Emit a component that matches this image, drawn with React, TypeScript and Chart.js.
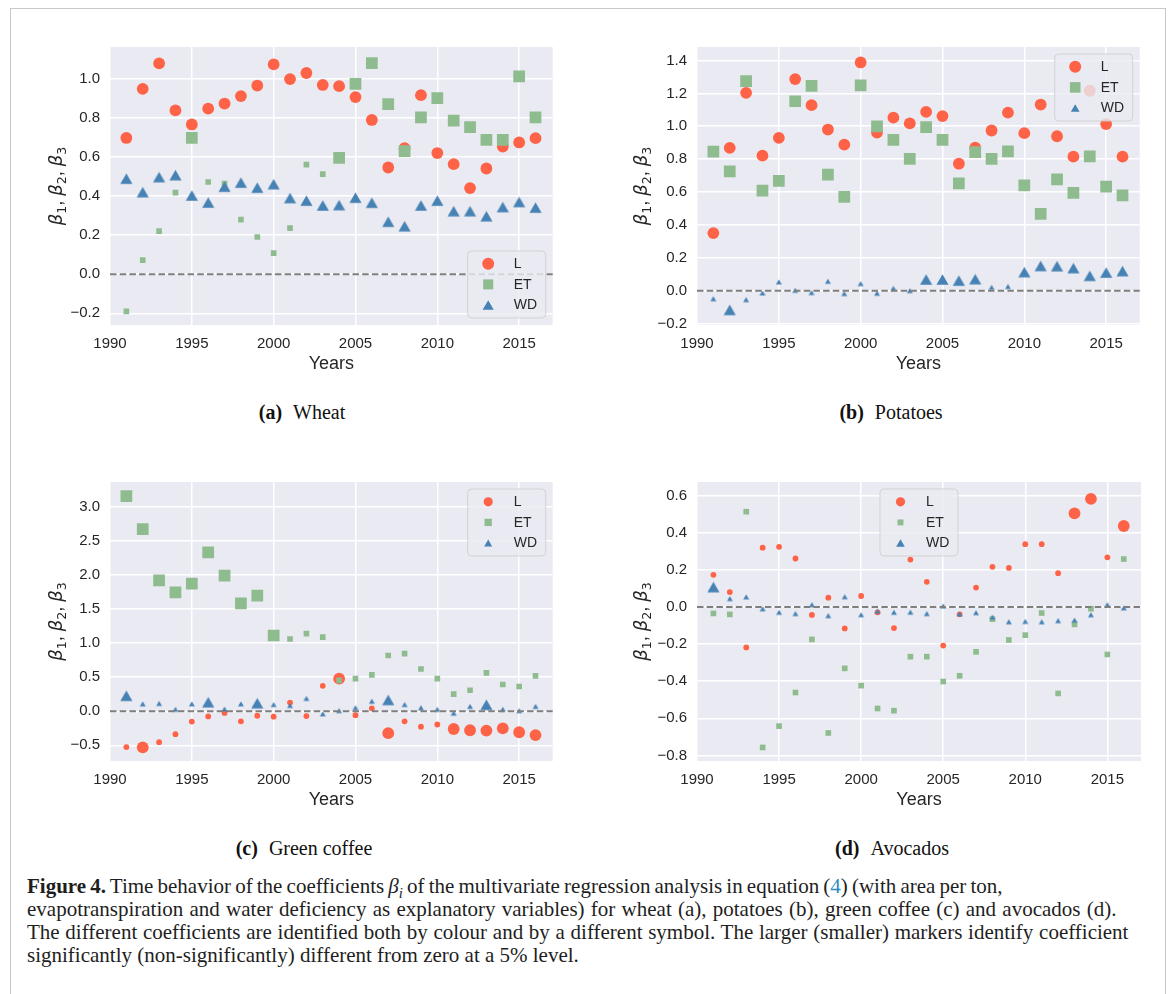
import React, { useEffect, useRef } from "react";
import { Chart, registerables } from "chart.js";

Chart.register(...registerables);

// ---------------- data ----------------
const years = [1991, 1992, 1993, 1994, 1995, 1996, 1997, 1998, 1999, 2000, 2001, 2002, 2003, 2004, 2005, 2006, 2007, 2008, 2009, 2010, 2011, 2012, 2013, 2014, 2015, 2016];
const xTicks = [1990, 1995, 2000, 2005, 2010, 2015];
const seriesLabels = ["L", "ET", "WD"];

// (a) Wheat
const wheatL = [0.696, 0.947, 1.077, 0.837, 0.765, 0.846, 0.872, 0.91, 0.964, 1.072, 0.997, 1.028, 0.967, 0.961, 0.905, 0.788, 0.545, 0.644, 0.915, 0.619, 0.562, 0.44, 0.54, 0.652, 0.673, 0.695];
const wheatLSig = [1, 1, 1, 1, 1, 1, 1, 1, 1, 1, 1, 1, 1, 1, 1, 1, 1, 1, 1, 1, 1, 1, 1, 1, 1, 1];
const wheatET = [-0.19, 0.072, 0.22, 0.417, 0.696, 0.471, 0.463, 0.279, 0.19, 0.107, 0.235, 0.56, 0.511, 0.594, 0.972, 1.079, 0.869, 0.629, 0.801, 0.9, 0.785, 0.752, 0.686, 0.686, 1.011, 0.801];
const wheatETSig = [0, 0, 0, 0, 1, 0, 0, 0, 0, 0, 0, 0, 0, 1, 1, 1, 1, 1, 1, 1, 1, 1, 1, 1, 1, 1];
const wheatWD = [0.488, 0.419, 0.496, 0.506, 0.402, 0.366, 0.447, 0.468, 0.442, 0.46, 0.389, 0.376, 0.351, 0.353, 0.391, 0.365, 0.268, 0.245, 0.351, 0.376, 0.322, 0.322, 0.296, 0.343, 0.369, 0.34];
const wheatWDSig = [1, 1, 1, 1, 1, 1, 1, 1, 1, 1, 1, 1, 1, 1, 1, 1, 1, 1, 1, 1, 1, 1, 1, 1, 1, 1];
const wheatYTicks = [-0.2, 0, 0.2, 0.4, 0.6, 0.8, 1.0];

// (b) Potatoes
const potL = [0.35, 0.868, 1.203, 0.821, 0.929, 1.287, 1.128, 0.98, 0.888, 1.388, 0.962, 1.052, 1.017, 1.087, 1.062, 0.772, 0.87, 0.974, 1.083, 0.958, 1.132, 0.939, 0.815, 1.216, 1.013, 0.815];
const potLSig = [1, 1, 1, 1, 1, 1, 1, 1, 1, 1, 1, 1, 1, 1, 1, 1, 1, 1, 1, 1, 1, 1, 1, 1, 1, 1];
const potET = [0.845, 0.725, 1.275, 0.608, 0.667, 1.152, 1.246, 0.706, 0.571, 1.248, 0.999, 0.917, 0.802, 0.995, 0.917, 0.653, 0.843, 0.802, 0.847, 0.641, 0.467, 0.677, 0.594, 0.817, 0.632, 0.579];
const potETSig = [1, 1, 1, 1, 1, 1, 1, 1, 1, 1, 1, 1, 1, 1, 1, 1, 1, 1, 1, 1, 1, 1, 1, 1, 1, 1];
const potWD = [-0.049, -0.117, -0.055, -0.014, 0.053, 0.002, -0.012, 0.057, -0.018, 0.043, -0.016, 0.014, 0.0, 0.068, 0.068, 0.061, 0.07, 0.02, 0.025, 0.113, 0.15, 0.149, 0.137, 0.09, 0.11, 0.119];
const potWDSig = [0, 1, 0, 0, 0, 0, 0, 0, 0, 0, 0, 0, 0, 1, 1, 1, 1, 0, 0, 1, 1, 1, 1, 1, 1, 1];
const potYTicks = [-0.2, 0, 0.2, 0.4, 0.6, 0.8, 1.0, 1.2, 1.4];

// (c) Green coffee
const cofL = [-0.525, -0.53, -0.454, -0.336, -0.151, -0.076, -0.024, -0.147, -0.066, -0.08, 0.128, -0.071, 0.374, 0.478, -0.057, 0.043, -0.322, -0.147, -0.227, -0.194, -0.26, -0.279, -0.284, -0.251, -0.308, -0.35];
const cofLSig = [0, 1, 0, 0, 0, 0, 0, 0, 0, 0, 0, 0, 0, 1, 0, 0, 1, 0, 0, 0, 1, 1, 1, 1, 1, 1];
const cofET = [3.157, 2.674, 1.921, 1.746, 1.874, 2.333, 1.992, 1.585, 1.699, 1.112, 1.06, 1.14, 1.088, 0.454, 0.478, 0.535, 0.819, 0.847, 0.62, 0.478, 0.251, 0.308, 0.563, 0.393, 0.364, 0.52];
const cofETSig = [1, 1, 1, 1, 1, 1, 1, 1, 1, 1, 0, 0, 0, 0, 0, 0, 0, 0, 0, 0, 0, 0, 0, 0, 0, 0];
const cofWD = [0.227, 0.109, 0.114, 0.028, 0.109, 0.133, 0.033, 0.109, 0.118, 0.099, 0.085, 0.189, -0.038, 0.009, 0.052, 0.147, 0.166, 0.099, 0.052, 0.028, -0.028, 0.071, 0.095, 0.028, 0.009, 0.071];
const cofWDSig = [1, 0, 0, 0, 0, 1, 0, 0, 1, 0, 0, 0, 0, 0, 0, 0, 1, 0, 0, 0, 0, 0, 1, 0, 0, 0];
const cofYTicks = [-0.5, 0, 0.5, 1.0, 1.5, 2.0, 2.5, 3.0];

// (d) Avocados
const avoL = [0.173, 0.08, -0.218, 0.319, 0.324, 0.261, -0.043, 0.05, -0.116, 0.059, -0.029, -0.114, 0.255, 0.135, -0.208, -0.04, 0.104, 0.216, 0.21, 0.338, 0.338, 0.182, 0.504, 0.582, 0.267, 0.436];
const avoLSig = [0, 0, 0, 0, 0, 0, 0, 0, 0, 0, 0, 0, 0, 0, 0, 0, 0, 0, 0, 0, 0, 0, 1, 1, 0, 1];
const avoET = [-0.035, -0.04, 0.513, -0.757, -0.642, -0.461, -0.175, -0.679, -0.331, -0.424, -0.547, -0.559, -0.268, -0.268, -0.402, -0.371, -0.242, -0.066, -0.178, -0.152, -0.033, -0.466, -0.094, -0.01, -0.256, 0.258];
const avoETSig = [0, 0, 0, 0, 0, 0, 0, 0, 0, 0, 0, 0, 0, 0, 0, 0, 0, 0, 0, 0, 0, 0, 0, 0, 0, 0];
const avoWD = [0.107, 0.045, 0.054, -0.01, -0.029, -0.036, 0.012, -0.047, 0.055, -0.042, -0.023, -0.029, -0.028, -0.036, 0.005, -0.038, -0.031, -0.055, -0.08, -0.078, -0.08, -0.074, -0.071, -0.042, 0.012, -0.005];
const avoWDSig = [1, 0, 0, 0, 0, 0, 0, 0, 0, 0, 0, 0, 0, 0, 0, 0, 0, 0, 0, 0, 0, 0, 0, 0, 0, 0];
const avoYTicks = [-0.8, -0.6, -0.4, -0.2, 0, 0.2, 0.4, 0.6];

// ---------------- styles ----------------
const RED = "#FF6347";
const GREEN = "#8FBC8F";
const BLUE = "#4682B4";
const AX_BG = "#EAEAF2";
const TXT = "#262626";
const SANS = '"Liberation Sans", Arial, sans-serif';
const MATH = '"DejaVu Sans", sans-serif';

const PAD_L = 70;
const PAD_T = 9;
const PAD_R = 6;
const PAD_B = 52;

type LegendPos = "lower right" | "upper right" | "upper center";

type Panel = {
  left: number;
  top: number;
  w: number;
  h: number;
  L: number[];
  LSig: number[];
  ET: number[];
  ETSig: number[];
  WD: number[];
  WDSig: number[];
  yMin: number;
  yMax: number;
  yTicks: number[];
  legendPos: LegendPos;
  legendR: number[];
  titleOff: number;
};

const panels: Panel[] = [
  { left: 110, top: 37, w: 445, h: 288, L: wheatL, LSig: wheatLSig, ET: wheatET, ETSig: wheatETSig, WD: wheatWD, WDSig: wheatWDSig, yMin: -0.26, yMax: 1.161, yTicks: wheatYTicks, legendPos: "lower right", legendR: [6, 7.1, 6.4], titleOff: 54 },
  { left: 697, top: 37, w: 445, h: 288, L: potL, LSig: potLSig, ET: potET, ETSig: potETSig, WD: potWD, WDSig: potWDSig, yMin: -0.209, yMax: 1.482, yTicks: potYTicks, legendPos: "upper right", legendR: [6, 7.5, 5], titleOff: 56 },
  { left: 110, top: 472, w: 445, h: 289, L: cofL, LSig: cofLSig, ET: cofET, ETSig: cofETSig, WD: cofWD, WDSig: cofWDSig, yMin: -0.73, yMax: 3.365, yTicks: cofYTicks, legendPos: "upper right", legendR: [4.6, 5.2, 4.6], titleOff: 54 },
  { left: 697, top: 472, w: 445, h: 289, L: avoL, LSig: avoLSig, ET: avoET, ETSig: avoETSig, WD: avoWD, WDSig: avoWDSig, yMin: -0.83, yMax: 0.673, yTicks: avoYTicks, legendPos: "upper center", legendR: [4.6, 4.2, 5], titleOff: 56 },
];

// triangle marker whose bounding box is centred on the data point (like matplotlib "^")
function makeTriangle(r: number, color: string): HTMLCanvasElement {
  const hw = r * 0.866;
  const w = Math.ceil(2 * hw) + 2;
  const h = Math.ceil(1.5 * r) + 2;
  const c = document.createElement("canvas");
  c.width = w;
  c.height = h;
  const g = c.getContext("2d") as CanvasRenderingContext2D;
  g.fillStyle = color;
  const cx = w / 2;
  const top = h / 2 - 0.75 * r;
  g.beginPath();
  g.moveTo(cx, top);
  g.lineTo(cx + hw, top + 1.5 * r);
  g.lineTo(cx - hw, top + 1.5 * r);
  g.closePath();
  g.fill();
  return c;
}

function drawMarker(ctx: CanvasRenderingContext2D, style: string, x: number, y: number, r: number) {
  ctx.beginPath();
  if (style === "circle") {
    ctx.arc(x, y, r, 0, Math.PI * 2);
  } else if (style === "rect") {
    const s = r * Math.SQRT1_2;
    ctx.rect(x - s, y - s, 2 * s, 2 * s);
  } else {
    const hw = r * 0.866;
    ctx.moveTo(x, y - 0.75 * r);
    ctx.lineTo(x + hw, y + 0.75 * r);
    ctx.lineTo(x - hw, y + 0.75 * r);
    ctx.closePath();
  }
  ctx.fill();
}

const decoPlugin = {
  id: "deco",
  beforeDraw(chart: any) {
    const { ctx, chartArea: a } = chart;
    ctx.save();
    ctx.fillStyle = AX_BG;
    ctx.fillRect(a.left, a.top, a.right - a.left, a.bottom - a.top);
    ctx.restore();
  },
  afterDatasetsDraw(chart: any, _args: any, opts: any) {
    const { ctx, chartArea: a } = chart;
    const y0 = chart.scales.y.getPixelForValue(0);
    ctx.save();
    ctx.strokeStyle = "#7f7f7f";
    ctx.lineWidth = 2;
    ctx.setLineDash([6.5, 3.2]);
    ctx.beginPath();
    ctx.moveTo(a.left, y0);
    ctx.lineTo(a.right, y0);
    ctx.stroke();
    ctx.restore();

    // legend box
    const bw = 78;
    const bh = 67;
    const m = 7;
    let bx = a.right - m - bw;
    let by = a.top + m;
    if (opts.pos === "lower right") by = a.bottom - m - bh;
    if (opts.pos === "upper center") bx = (a.left + a.right) / 2 - bw / 2;
    const rr = 4;
    ctx.save();
    ctx.beginPath();
    ctx.moveTo(bx + rr, by);
    ctx.lineTo(bx + bw - rr, by);
    ctx.arcTo(bx + bw, by, bx + bw, by + rr, rr);
    ctx.lineTo(bx + bw, by + bh - rr);
    ctx.arcTo(bx + bw, by + bh, bx + bw - rr, by + bh, rr);
    ctx.lineTo(bx + rr, by + bh);
    ctx.arcTo(bx, by + bh, bx, by + bh - rr, rr);
    ctx.lineTo(bx, by + rr);
    ctx.arcTo(bx, by, bx + rr, by, rr);
    ctx.closePath();
    ctx.fillStyle = "rgba(234,234,242,0.8)";
    ctx.fill();
    ctx.strokeStyle = "rgba(204,204,204,0.8)";
    ctx.lineWidth = 1;
    ctx.stroke();
    chart.data.datasets.forEach((ds: any, i: number) => {
      const cy = by + 12.8 + i * 20.6;
      ctx.fillStyle = ds.markerColor;
      drawMarker(ctx, ds.markerType, bx + 20.5, cy, opts.radii[i]);
      ctx.fillStyle = TXT;
      ctx.font = `14px ${SANS}`;
      ctx.textBaseline = "middle";
      ctx.textAlign = "left";
      ctx.fillText(ds.label, bx + 46, cy + 0.5);
    });
    ctx.restore();
  },
  afterDraw(chart: any, _args: any, opts: any) {
    // y-axis label  β1, β2, β3  (rotated, with subscripts)
    const { ctx, chartArea: a } = chart;
    const big = 18;
    const small = 12.6;
    const parts: { t: string; font: string; dy: number }[] = [];
    ["1", "2", "3"].forEach((d, i) => {
      parts.push({ t: "\u03B2", font: `italic ${big}px ${MATH}`, dy: 0 });
      parts.push({ t: d, font: `${small}px ${MATH}`, dy: 3.8 });
      if (i < 2) parts.push({ t: ", ", font: `${big}px ${SANS}`, dy: 0 });
    });
    ctx.save();
    let total = 0;
    const widths = parts.map((p) => {
      ctx.font = p.font;
      const w = ctx.measureText(p.t).width;
      total += w;
      return w;
    });
    const cx = a.left - opts.titleOff;
    const cy = (a.top + a.bottom) / 2;
    ctx.translate(cx, cy);
    ctx.rotate(-Math.PI / 2);
    ctx.fillStyle = TXT;
    ctx.textBaseline = "alphabetic";
    ctx.textAlign = "left";
    let x = -total / 2;
    const base = 6;
    parts.forEach((p, i) => {
      ctx.font = p.font;
      ctx.fillText(p.t, x, base + p.dy);
      x += widths[i];
    });
    ctx.restore();
  },
};

function buildConfig(p: Panel): any {
  const mk = (label: string, vals: number[], sig: number[], style: string, color: string, big: number, small: number, order: number) => {
    const isTri = style === "triangle";
    const bigTri = isTri ? makeTriangle(big, color) : null;
    const smallTri = isTri ? makeTriangle(small, color) : null;
    return {
      label,
      markerType: style,
      markerColor: color,
      data: years.map((x, i) => ({ x, y: vals[i] })),
      pointStyle: isTri ? sig.map((s) => (s ? bigTri : smallTri)) : style,
      pointRadius: sig.map((s) => (s ? big : small)),
      pointHoverRadius: sig.map((s) => (s ? big : small)),
      pointBackgroundColor: color,
      pointBorderWidth: 0,
      showLine: false,
      order,
    };
  };
  return {
    type: "scatter",
    data: {
      datasets: [
        mk(seriesLabels[0], p.L, p.LSig, "circle", RED, 5.9, 2.9, 3),
        mk(seriesLabels[1], p.ET, p.ETSig, "rect", GREEN, 8.3, 4.0, 2),
        mk(seriesLabels[2], p.WD, p.WDSig, "triangle", BLUE, 7, 3.4, 1),
      ],
    },
    options: {
      animation: false,
      responsive: false,
      events: [],
      layout: { padding: { top: PAD_T, right: PAD_R, left: 0, bottom: 0 } },
      plugins: {
        legend: { display: false },
        tooltip: { enabled: false },
        deco: { pos: p.legendPos, radii: p.legendR, titleOff: p.titleOff },
      },
      scales: {
        x: {
          type: "linear",
          min: 1990,
          max: 2017.05,
          afterFit: (s: any) => {
            s.height = PAD_B;
          },
          afterBuildTicks: (s: any) => {
            s.ticks = xTicks.map((v) => ({ value: v }));
          },
          ticks: {
            callback: (v: any) => String(v),
            font: { family: SANS, size: 15 },
            color: TXT,
            padding: 10,
            maxRotation: 0,
            autoSkip: false,
          },
          grid: { color: "#ffffff", lineWidth: 1.5, drawTicks: false },
          border: { display: false },
          title: {
            display: true,
            text: "Years",
            font: { family: SANS, size: 18 },
            color: TXT,
            padding: { top: 0, bottom: 2 },
          },
        },
        y: {
          type: "linear",
          min: p.yMin,
          max: p.yMax,
          afterFit: (s: any) => {
            s.width = PAD_L;
          },
          afterBuildTicks: (s: any) => {
            s.ticks = p.yTicks.map((v) => ({ value: v }));
          },
          ticks: {
            callback: (v: any) => (v < 0 ? "\u2212" : "") + Math.abs(v).toFixed(1),
            font: { family: SANS, size: 15 },
            color: TXT,
            padding: 10,
            autoSkip: false,
          },
          grid: { color: "#ffffff", lineWidth: 1.5, drawTicks: false },
          border: { display: false },
          title: { display: false },
        },
      },
    },
    plugins: [decoPlugin],
  };
}

function ChartPanel({ p }: { p: Panel }) {
  const ref = useRef<HTMLCanvasElement | null>(null);
  useEffect(() => {
    const chart = new Chart(ref.current as HTMLCanvasElement, buildConfig(p));
    return () => chart.destroy();
  }, [p]);
  const cw = PAD_L + p.w + PAD_R;
  const ch = PAD_T + p.h + PAD_B;
  return (
    <canvas
      ref={ref}
      width={cw}
      height={ch}
      style={{ position: "absolute", left: p.left - PAD_L, top: p.top - PAD_T, width: cw, height: ch }}
    />
  );
}

const subcaptions = [
  { tag: "(a)", name: "Wheat", cx: 302, cy: 412 },
  { tag: "(b)", name: "Potatoes", cx: 891, cy: 412 },
  { tag: "(c)", name: "Green coffee", cx: 304, cy: 848 },
  { tag: "(d)", name: "Avocados", cx: 892, cy: 848 },
];

const SERIF = '"Liberation Serif", "Times New Roman", serif';

export default function App() {
  return (
    <div style={{ position: "absolute", left: 0, top: 0, width: 1171, height: 994, overflow: "hidden", background: "#fff" }}>
      <div
        style={{
          position: "absolute",
          left: 10,
          top: 8,
          width: 1154,
          height: 1000,
          borderTop: "1px solid #c8c8c8",
          borderLeft: "1px solid #c8c8c8",
          borderRight: "1px solid #c8c8c8",
        }}
      />
      {panels.map((p, i) => (
        <ChartPanel key={i} p={p} />
      ))}
      {subcaptions.map((s, i) => (
        <div
          key={i}
          style={{
            position: "absolute",
            left: s.cx - 150,
            top: s.cy - 12,
            width: 300,
            height: 24,
            lineHeight: "24px",
            textAlign: "center",
            fontFamily: SERIF,
            fontSize: 20,
            color: "#111",
            whiteSpace: "nowrap",
          }}
        >
          <b>{s.tag}</b>
          <span style={{ marginLeft: 11 }}>{s.name}</span>
        </div>
      ))}
      <div
        style={{
          position: "absolute",
          left: 27,
          top: 875,
          fontFamily: SERIF,
          fontSize: 21,
          lineHeight: "23px",
          color: "#1e1e1e",
          whiteSpace: "nowrap",
        }}
      >
        <div style={{ wordSpacing: -1.1 }}>
          <b>Figure 4.</b> Time behavior of the coefficients <i>β</i>
          <sub style={{ fontSize: "70%", lineHeight: 0 }}>
            <i>i</i>
          </sub>{" "}
          of the multivariate regression analysis in equation (<span style={{ color: "#2b8cc4" }}>4</span>) (with area per ton,
        </div>
        <div style={{ wordSpacing: 1 }}>evapotranspiration and water deficiency as explanatory variables) for wheat (a), potatoes (b), green coffee (c) and avocados (d).</div>
        <div style={{ wordSpacing: 0.45 }}>The different coefficients are identified both by colour and by a different symbol. The larger (smaller) markers identify coefficient</div>
        <div>significantly (non-significantly) different from zero at a 5% level.</div>
      </div>
    </div>
  );
}
